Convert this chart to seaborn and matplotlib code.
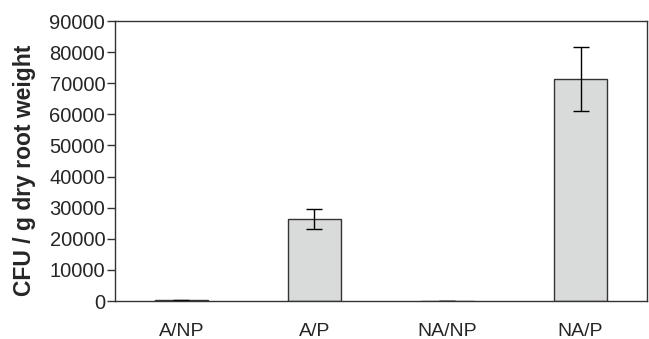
import matplotlib
matplotlib.use("Agg")
import matplotlib.pyplot as plt
import seaborn as sns
import pandas as pd

groups = ["A/NP", "A/P", "NA/NP", "NA/P"]
cfu_mean = [300, 26300, 100, 71500]
cfu_err = [150, 3200, 50, 10300]

df = pd.DataFrame({"group": groups, "cfu": cfu_mean})

sns.set_style("white")
plt.rcParams["font.family"] = ["Liberation Sans", "DejaVu Sans"]

fig, ax = plt.subplots(figsize=(6.49, 3.39), dpi=100)
fig.subplots_adjust(left=0.177, right=0.997, bottom=0.112, top=0.938)

sns.barplot(data=df, x="group", y="cfu", color="#d9dbdb", width=0.4,
            edgecolor="#333333", linewidth=1, errorbar=None, ax=ax)
ax.errorbar(range(len(groups)), cfu_mean, yerr=cfu_err, fmt="none",
            ecolor="black", elinewidth=1, capsize=6, capthick=1)

ax.set_xlim(-0.5, 3.5)
ax.set_ylim(0, 90000)
ax.set_yticks(range(0, 90001, 10000))
ax.set_xlabel("")
ax.set_ylabel("CFU / g dry root weight", fontsize=16.5, fontweight="bold")
ax.yaxis.set_label_coords(-0.148, 0.468)

# category boundary ticks on x
ax.set_xticks([-0.5, 0.5, 1.5, 2.5, 3.5], minor=True)
ax.tick_params(axis="x", which="major", length=0, pad=15.5, labelsize=14)
ax.tick_params(axis="x", which="minor", length=6, width=1, direction="out", color="#333333")
ax.tick_params(axis="y", length=6, width=1, direction="out", pad=1, labelsize=14.5, color="#333333", left=True)

for s in ax.spines.values():
    s.set_color("#333333")
    s.set_linewidth(1)

fig.savefig("out.png", dpi=100)
